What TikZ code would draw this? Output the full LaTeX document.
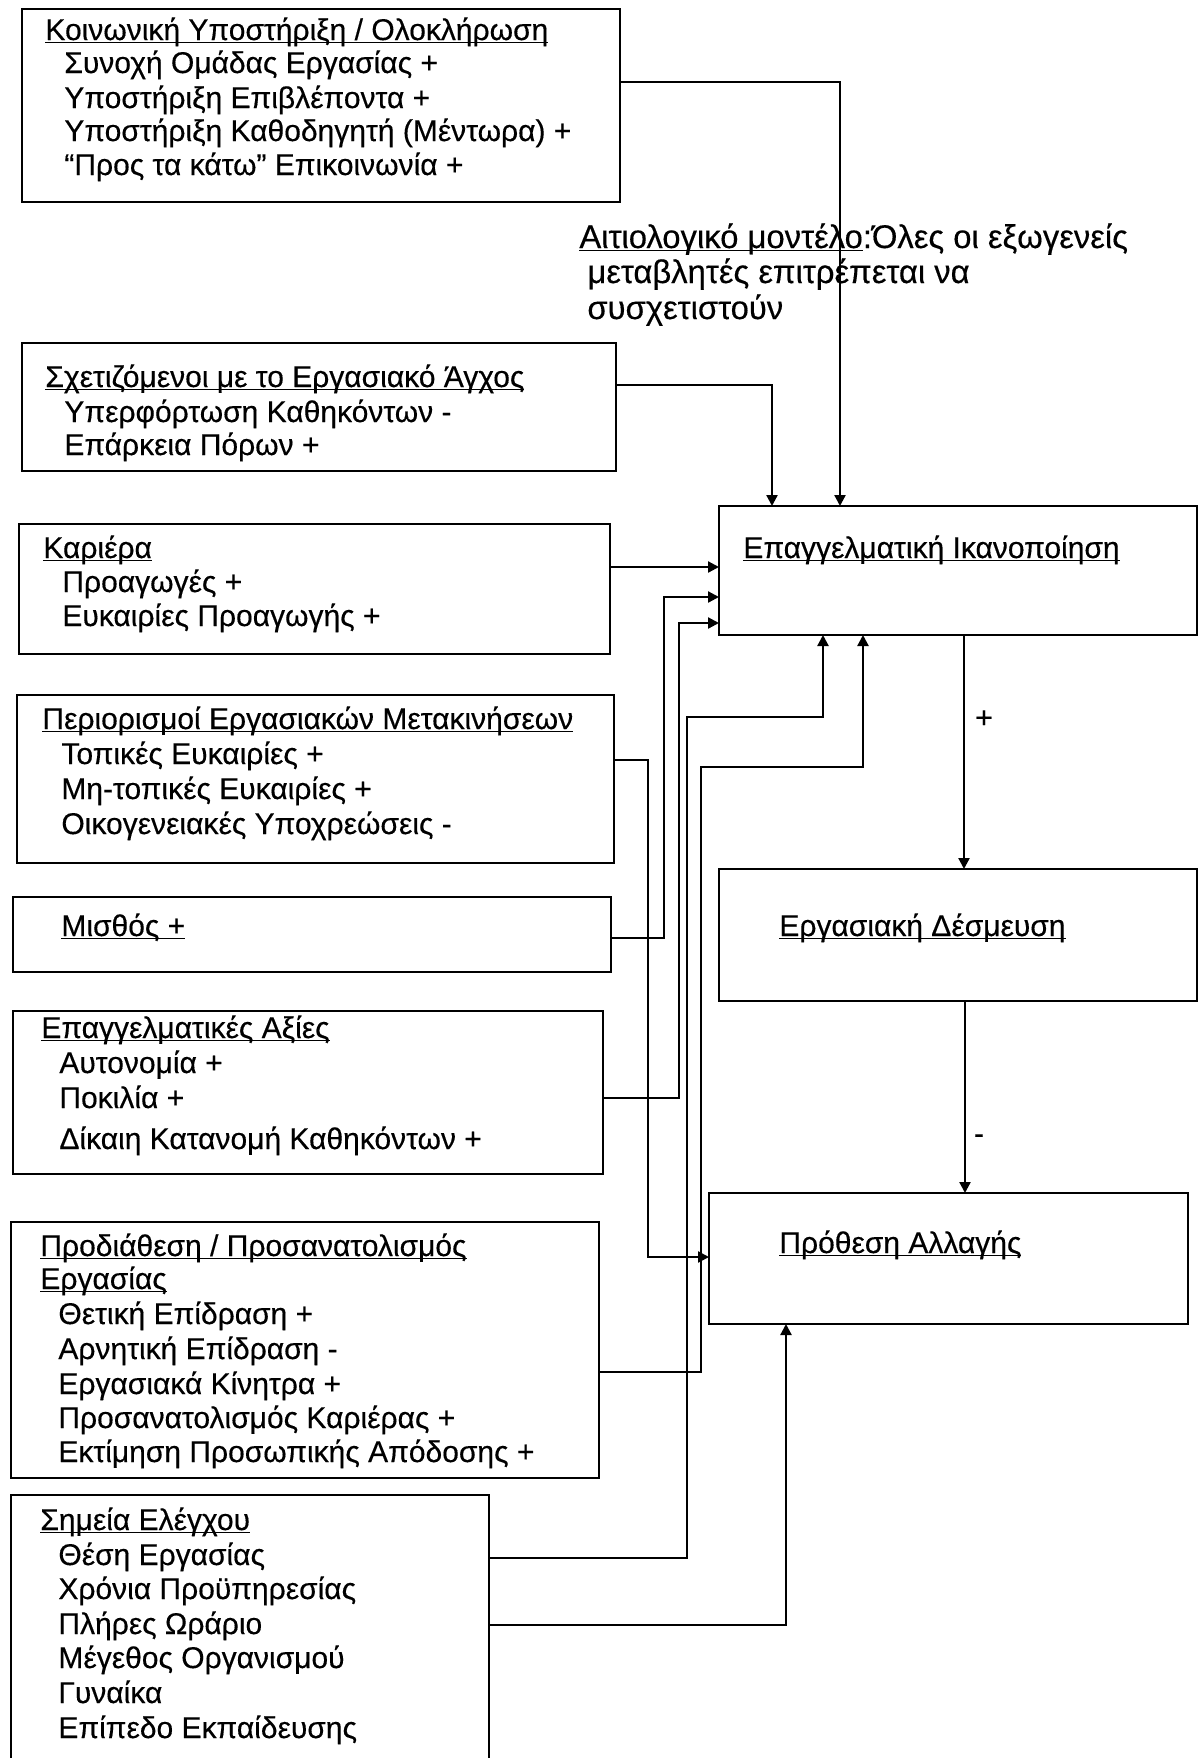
\documentclass[tikz,border=0pt]{standalone}
\usepackage{fontspec}
\setmainfont{Liberation Sans}[FakeBold=0.35]
\usetikzlibrary{arrows.meta}
\newcommand\myul[1]{\setbox0=\hbox{#1}\rlap{\rule[-1.7pt]{\wd0}{0.8pt}}\box0}
\tikzset{
  bx/.style={draw, line width=1.4pt, rectangle, anchor=north west, inner sep=0pt, outer sep=0pt},
  tx/.style={anchor=base west, inner sep=0pt, font=\fontsize{15}{18}\selectfont},
  ntx/.style={anchor=base west, inner sep=0pt, font=\fontsize{16.4}{19}\selectfont},
  conn/.style={line width=1.15pt, -{Triangle[length=5.5pt,width=5.5pt]}},
  lbl/.style={inner sep=0pt, font=\fontsize{15}{18}\selectfont}
}
\begin{document}
\begin{tikzpicture}[x=0.5pt,y=-0.5pt]
\useasboundingbox (0,0) rectangle (1203,1758);
\fill[white] (0,0) rectangle (1203,1758);
% boxes
\node[bx, minimum width=299pt, minimum height=96.5pt] (b1) at (22,9) {};
\node[bx, minimum width=297pt, minimum height=64pt] (b2) at (22,343) {};
\node[bx, minimum width=295.5pt, minimum height=65pt] (b3) at (19,524) {};
\node[bx, minimum width=298.5pt, minimum height=84pt] (b4) at (17,695) {};
\node[bx, minimum width=299pt, minimum height=37.5pt] (b5) at (13,897) {};
\node[bx, minimum width=295pt, minimum height=81.5pt] (b6) at (13,1011) {};
\node[bx, minimum width=294pt, minimum height=128pt] (b7) at (11,1222) {};
\node[bx, minimum width=239pt, minimum height=140pt] (b8) at (11,1495) {};
\node[bx, minimum width=239pt, minimum height=64.5pt] (b9) at (719,506) {};
\node[bx, minimum width=239pt, minimum height=66pt] (b10) at (719,869) {};
\node[bx, minimum width=239.5pt, minimum height=65.5pt] (b11) at (709,1193) {};
% texts box 1
\node[tx] (t1a) at (45,40) {\myul{Κοινωνική Υποστήριξη / Ολοκλήρωση}};
\node[tx] (t1b) at (64,73) {Συνοχή Ομάδας Εργασίας +};
\node[tx] (t1c) at (64,108) {Υποστήριξη Επιβλέποντα +};
\node[tx] (t1d) at (64,141) {Υποστήριξη Καθοδηγητή (Μέντωρα) +};
\node[tx] (t1e) at (64,175) {“Προς τα κάτω” Επικοινωνία +};
% box 2
\node[tx] (t2a) at (45,387) {\myul{Σχετιζόμενοι με το Εργασιακό Άγχος}};
\node[tx] (t2b) at (64,422) {Υπερφόρτωση Καθηκόντων -};
\node[tx] (t2c) at (64,455) {Επάρκεια Πόρων +};
% box 3
\node[tx] (t3a) at (43,558) {\myul{Καριέρα}};
\node[tx] (t3b) at (62,592) {Προαγωγές +};
\node[tx] (t3c) at (62,626) {Ευκαιρίες Προαγωγής +};
% box 4
\node[tx] (t4a) at (42,729) {\myul{Περιορισμοί Εργασιακών Μετακινήσεων}};
\node[tx] (t4b) at (61,764) {Τοπικές Ευκαιρίες +};
\node[tx] (t4c) at (61,799) {Μη-τοπικές Ευκαιρίες +};
\node[tx] (t4d) at (61,834) {Οικογενειακές Υποχρεώσεις -};
% box 5
\node[tx] (t5a) at (61,936) {\myul{Μισθός +}};
% box 6
\node[tx] (t6a) at (41,1038) {\myul{Επαγγελματικές Αξίες}};
\node[tx] (t6b) at (59,1073) {Αυτονομία +};
\node[tx] (t6c) at (59,1108) {Ποκιλία +};
\node[tx] (t6d) at (59,1149) {Δίκαιη Κατανομή Καθηκόντων +};
% box 7
\node[tx] (t7a) at (40,1256) {\myul{Προδιάθεση / Προσανατολισμός}};
\node[tx] (t7b) at (40,1289) {\myul{Εργασίας}};
\node[tx] (t7c) at (58,1324) {Θετική Επίδραση +};
\node[tx] (t7d) at (58,1359) {Αρνητική Επίδραση -};
\node[tx] (t7e) at (58,1394) {Εργασιακά Κίνητρα +};
\node[tx] (t7f) at (58,1428) {Προσανατολισμός Καριέρας +};
\node[tx] (t7g) at (58,1462) {Εκτίμηση Προσωπικής Απόδοσης +};
% box 8
\node[tx] (t8a) at (40,1530) {\myul{Σημεία Ελέγχου}};
\node[tx] (t8b) at (58,1565) {Θέση Εργασίας};
\node[tx] (t8c) at (58,1599) {Χρόνια Προϋπηρεσίας};
\node[tx] (t8d) at (58,1634) {Πλήρες Ωράριο};
\node[tx] (t8e) at (58,1668) {Μέγεθος Οργανισμού};
\node[tx] (t8f) at (58,1703) {Γυναίκα};
\node[tx] (t8g) at (58,1738) {Επίπεδο Εκπαίδευσης};
% right boxes
\node[tx] (t9) at (743,558) {\myul{Επαγγελματική Ικανοποίηση}};
\node[tx] (t10) at (779,936) {\myul{Εργασιακή Δέσμευση}};
\node[tx] (t11) at (779,1253) {\myul{Πρόθεση Αλλαγής}};
% annotation
\node[ntx] (n1) at (579,248) {\myul{Αιτιολογικό μοντέλο}:Όλες οι εξωγενείς};
\node[ntx] (n2) at (587,283) {μεταβλητές επιτρέπεται να};
\node[ntx] (n3) at (587,319) {συσχετιστούν};
% connectors
\draw[conn] (b1.east |- 0,82) -| (b9.north -| 840,0);
\draw[conn] (b2.east |- 0,385) -| (b9.north -| 772,0);
\draw[conn] (b3.east |- 0,567) -- (b9.west |- 0,567);
\draw[conn] (b5.east |- 0,938) -| (664,597) -- (b9.west |- 0,597);
\draw[conn] (b6.east |- 0,1098) -| (679,623) -- (b9.west |- 0,623);
\draw[conn] (b4.east |- 0,760) -| (648,1257) -- (b11.west |- 0,1257);
\draw[conn] (b8.east |- 0,1558) -| (687,717) -| (b9.south -| 823,0);
\draw[conn] (b7.east |- 0,1372) -| (701,767) -| (b9.south -| 863,0);
\draw[conn] (b8.east |- 0,1625) -| (b11.south -| 786,0);
\draw[conn] (b9.south -| 964,0) -- (b10.north -| 964,0);
\draw[conn] (b10.south -| 965,0) -- (b11.north -| 965,0);
\node[lbl] (plus) at (984,719) {+};
\node[lbl] (minus) at (979,1139) {-};
\end{tikzpicture}
\end{document}
